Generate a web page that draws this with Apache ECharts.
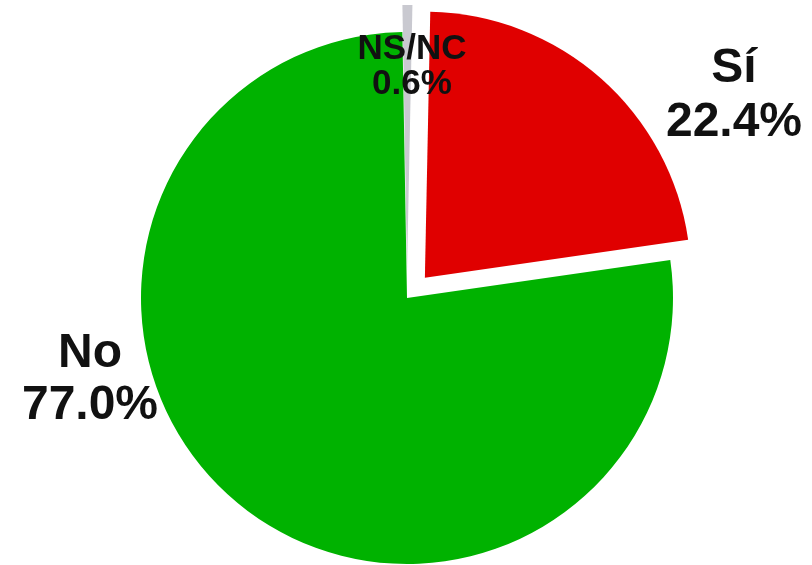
<!DOCTYPE html>
<html>
<head>
<meta charset="utf-8">
<script src="https://cdn.jsdelivr.net/npm/echarts@6/dist/echarts.min.js"></script>
<style>
html,body{margin:0;padding:0;background:#fff;}
#chart{width:812px;height:565px;}
</style>
</head>
<body>
<div id="chart"></div>
<script>
const categories = ['NS/NC', 'Sí', 'No'];
const values = [0.6, 22.4, 77.0];
const colors = ['#c9c9d0', '#e00000', '#00b200'];
const exploded = [true, true, false];

const labelStyle = [
  { fontSize: 35, lineHeight: 35, pos: [412, 67] },
  { fontSize: 48, lineHeight: 54, pos: [734, 96] },
  { fontSize: 48, lineHeight: 52, pos: [90, 380] }
];

const chart = echarts.init(document.getElementById('chart'), null, { renderer: 'canvas' });

const sliceData = categories.map((name, i) => ({
  name: name,
  value: values[i],
  selected: exploded[i],
  itemStyle: { color: colors[i] },
  select: { itemStyle: { color: colors[i] } }
}));

const labelData = categories.map((name, i) => ({
  name: name,
  value: values[i],
  label: { fontSize: labelStyle[i].fontSize, lineHeight: labelStyle[i].lineHeight }
}));

chart.setOption({
  animation: false,
  backgroundColor: '#ffffff',
  series: [{
    type: 'pie',
    center: [407, 298],
    radius: 266,
    startAngle: 91,
    clockwise: true,
    selectedMode: 'multiple',
    selectedOffset: 27,
    itemStyle: { borderWidth: 0 },
    emphasis: { disabled: true },
    label: { show: false },
    labelLine: { show: false },
    silent: true,
    data: sliceData
  }, {
    type: 'pie',
    center: [407, 298],
    radius: 266,
    startAngle: 91,
    clockwise: true,
    silent: true,
    avoidLabelOverlap: false,
    itemStyle: { color: 'rgba(0,0,0,0)', borderWidth: 0 },
    emphasis: { disabled: true },
    label: {
      show: true,
      position: 'outside',
      formatter: p => p.name + '\n' + p.value.toFixed(1) + '%',
      fontFamily: 'Liberation Sans, Arial, sans-serif',
      fontWeight: 'bold',
      color: '#111111',
      align: 'center'
    },
    labelLine: { show: false },
    labelLayout: function (params) {
      const s = labelStyle[params.dataIndex];
      return { x: s.pos[0], y: s.pos[1], align: 'center', verticalAlign: 'middle', hideOverlap: false };
    },
    data: labelData
  }]
});
</script>
</body>
</html>
